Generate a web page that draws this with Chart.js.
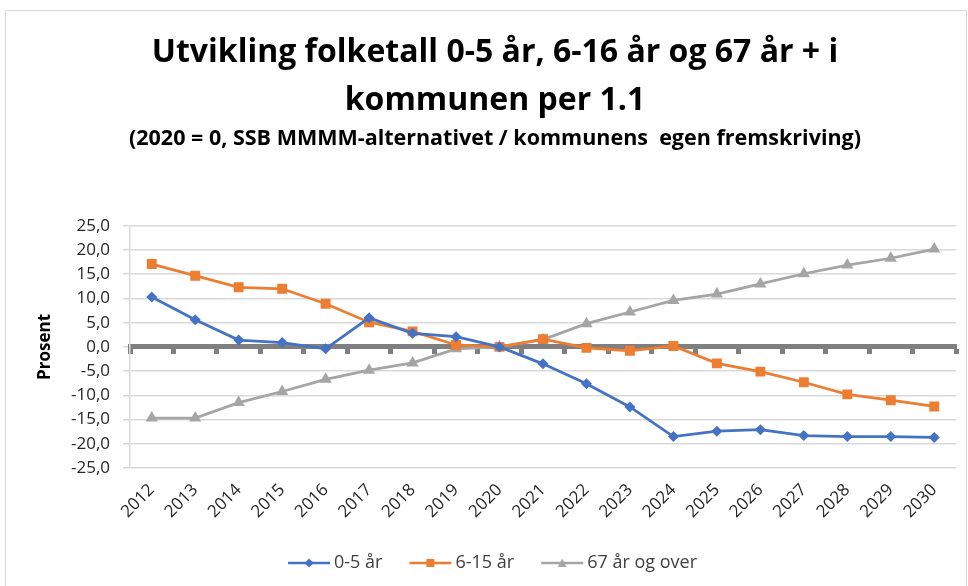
<!DOCTYPE html>
<html>
<head>
<meta charset="utf-8">
<script src="https://cdn.jsdelivr.net/npm/chart.js@4"></script>
<style>
  html, body { margin: 0; padding: 0; background: #fff; }
  #wrap { width: 968px; height: 586px; }
</style>
</head>
<body>
<div id="wrap"><canvas id="chart"></canvas></div>
<script>
const years = ['2012', '2013', '2014', '2015', '2016', '2017', '2018', '2019', '2020', '2021',
    '2022', '2023', '2024', '2025', '2026', '2027', '2028', '2029', '2030']

const age0to5 = [10.3, 5.6, 1.4, 0.9, -0.4, 6.0, 2.8, 2.1, 0.0, -3.5,
    -7.6, -12.4, -18.5, -17.4, -17.1, -18.3, -18.5, -18.5, -18.7]
const age6to15 = [17.1, 14.7, 12.3, 12.0, 8.9, 5.1, 3.2, 0.4, 0.0, 1.6,
    -0.2, -0.8, 0.2, -3.4, -5.1, -7.3, -9.8, -11.0, -12.3]
const age67plus = [-14.7, -14.7, -11.5, -9.2, -6.7, -4.8, -3.3, -0.4, 0.0, 1.5,
    4.8, 7.2, 9.6, 10.9, 13.0, 15.1, 16.9, 18.3, 20.2]

const yTicks = { min: -25, max: 25, step: 5 }

const FONT = "'Open Sans', 'Noto Sans', sans-serif"

// small line + marker picture used as the legend symbol, like Excel draws it
function legendIcon(color, style) {
    let c = document.createElement('canvas')
    c.width = 46
    c.height = 12
    let ctx = c.getContext('2d')
    ctx.strokeStyle = color
    ctx.fillStyle = color
    ctx.lineWidth = 2.5
    ctx.beginPath()
    ctx.moveTo(2, 6)
    ctx.lineTo(44, 6)
    ctx.stroke()
    ctx.beginPath()
    if (style === 'diamond') {
        ctx.moveTo(23, 1.5); ctx.lineTo(27.5, 6); ctx.lineTo(23, 10.5); ctx.lineTo(18.5, 6)
    } else if (style === 'square') {
        ctx.rect(19, 2, 8, 8)
    } else {
        ctx.moveTo(23, 1.5); ctx.lineTo(27.5, 10); ctx.lineTo(18.5, 10)
    }
    ctx.closePath()
    ctx.fill()
    return c
}

const frame = {
    id: 'frame',
    beforeDraw(chart) {
        let ctx = chart.ctx
        ctx.save()
        ctx.strokeStyle = '#d9d9d9'
        ctx.lineWidth = 1
        ctx.strokeRect(5.5, 10.5, 961, 600)
        ctx.restore()
    },
}

const series = [
    { label: '0-5 år', data: age0to5, color: '#4472C4', point: 'rectRot', radius: 5.5, icon: 'diamond' },
    { label: '6-15 år', data: age6to15, color: '#ED7D31', point: 'rect', radius: 7, icon: 'square' },
    { label: '67 år og over', data: age67plus, color: '#A5A5A5', point: 'triangle', radius: 7, icon: 'triangle' },
]

const datasets = series.map((s) => ({
    label: s.label,
    data: s.data,
    borderColor: s.color,
    backgroundColor: s.color,
    borderWidth: 2.75,
    pointStyle: s.point,
    pointRadius: s.radius,
    pointBorderWidth: 0,
    pointHoverRadius: s.radius,
    tension: 0,
    icon: legendIcon(s.color, s.icon),
}))

new Chart(document.getElementById('chart'), {
    type: 'line',
    data: { labels: years, datasets },
    plugins: [frame],
    options: {
        responsive: true,
        maintainAspectRatio: false,
        animation: false,
        layout: { padding: { left: 34, right: 12, top: 0, bottom: 4 } },
        plugins: {
            title: {
                display: true,
                text: ['Utvikling folketall 0-5 år, 6-16 år og 67 år + i', 'kommunen per 1.1'],
                color: '#000',
                font: { family: FONT, size: 32, weight: 'bold', lineHeight: 1.5 },
                padding: { top: 29, bottom: 0 },
            },
            subtitle: {
                display: true,
                text: '(2020 = 0, SSB MMMM-alternativet / kommunens  egen fremskriving)',
                color: '#000',
                font: { family: FONT, size: 21.5, weight: 'bold' },
                padding: { top: 1, bottom: 74 },
            },
            legend: {
                position: 'bottom',
                labels: {
                    color: '#404040',
                    font: { family: FONT, size: 18 },
                    usePointStyle: true,
                    pointStyleWidth: 32,
                    boxHeight: 12,
                    padding: 32,
                    generateLabels(chart) {
                        return chart.data.datasets.map((ds, i) => ({
                            text: ds.label,
                            pointStyle: ds.icon,
                            fillStyle: ds.borderColor,
                            strokeStyle: ds.borderColor,
                            lineWidth: 0,
                            fontColor: '#404040',
                            datasetIndex: i,
                            hidden: false,
                        }))
                    },
                },
            },
            tooltip: { enabled: false },
        },
        scales: {
            x: {
                position: 'bottom',
                offset: true,
                grid: { display: false },
                border: { display: false },
                ticks: {
                    color: '#262626',
                    font: { family: FONT, size: 17 },
                    maxRotation: 45,
                    minRotation: 45,
                    padding: 4,
                    autoSkip: false,
                },
                afterFit(scale) { scale.height = 54 },
            },
            zero: {
                type: 'category',
                axis: 'x',
                labels: years,
                position: { y: 0 },
                offset: true,
                grid: {
                    offset: true,
                    drawOnChartArea: false,
                    drawTicks: true,
                    tickLength: 5,
                    tickWidth: 5,
                    tickColor: '#7f7f7f',
                },
                border: { display: true, color: '#7f7f7f', width: 5 },
                ticks: { display: false },
            },
            y: {
                min: yTicks.min,
                max: yTicks.max,
                grid: {
                    color: '#d9d9d9',
                    lineWidth: 1.5,
                    tickLength: 7,
                },
                border: { display: true, color: '#d9d9d9', width: 1.5 },
                ticks: {
                    stepSize: yTicks.step,
                    autoSkip: false,
                    color: '#262626',
                    font: { family: FONT, size: 17 },
                    padding: 13,
                    callback: (v) => v.toFixed(1).replace('.', ','),
                },
                title: {
                    display: true,
                    text: 'Prosent',
                    color: '#000',
                    font: { family: FONT, size: 17, weight: 'bold' },
                    padding: { top: 1, bottom: 0 },
                },
                afterFit(scale) { scale.width = 96 },
            },
        },
    },
})
</script>
</body>
</html>
